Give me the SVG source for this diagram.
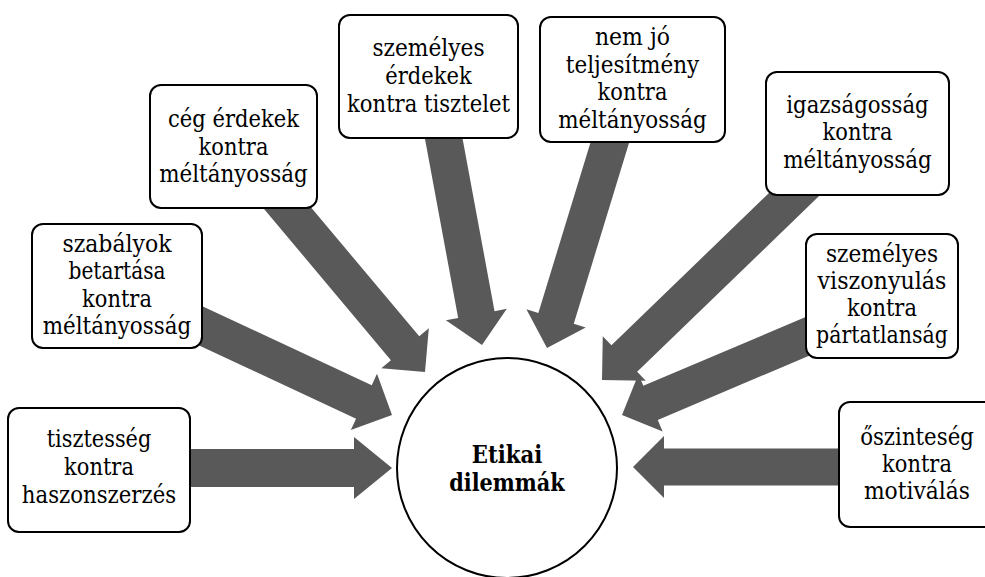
<svg xmlns="http://www.w3.org/2000/svg" xmlns:xlink="http://www.w3.org/1999/xlink" width="985" height="577" viewBox="0 0 985 577">
<style>
.box{fill:#fff;stroke:#000;stroke-width:2}
.t{font-family:"DejaVu Serif","Liberation Serif","Times New Roman",serif;font-size:24.5px;fill:#000;text-anchor:middle}
.b{font-weight:bold}
.arr{fill:#595959}
</style>
<defs>
<path id="arrow" d="M-290,-18.5 H-31 V-31 L0,0 L-31,31 V18.5 H-290 Z"/>
<path id="arrowL" d="M-290,-19 H-38 V-31 L0,0 L-38,31 V19 H-290 Z"/>
</defs>
<rect width="985" height="577" fill="#fff"/>
<g id="connectors" class="arr">
<use xlink:href="#arrowL" href="#arrowL" transform="translate(392,468)"/>
<use xlink:href="#arrow" href="#arrow" transform="translate(392,415) rotate(25)"/>
<use xlink:href="#arrow" href="#arrow" transform="translate(425,372) rotate(50)"/>
<use xlink:href="#arrow" href="#arrow" transform="translate(482,345) rotate(79.5)"/>
<use xlink:href="#arrow" href="#arrow" transform="translate(547,348) rotate(107)"/>
<use xlink:href="#arrow" href="#arrow" transform="translate(602,380) rotate(136)"/>
<use xlink:href="#arrow" href="#arrow" transform="translate(622,415) rotate(157)"/>
<use xlink:href="#arrow" href="#arrow" transform="translate(633,467) rotate(180)"/>
</g>
<g id="center">
<circle cx="507" cy="468" r="110" fill="#fff" stroke="#000" stroke-width="2"/>
<text class="t b" x="507" y="463" textLength="70.5" lengthAdjust="spacingAndGlyphs">Etikai</text>
<text class="t b" x="507" y="491" textLength="115.5" lengthAdjust="spacingAndGlyphs">dilemmák</text>
</g>
<g id="n1">
<rect class="box" x="8" y="408" width="182" height="124" rx="11"/>
<text class="t" x="99" y="447" textLength="104.6" lengthAdjust="spacingAndGlyphs">tisztesség</text>
<text class="t" x="99" y="475" textLength="69.8" lengthAdjust="spacingAndGlyphs">kontra</text>
<text class="t" x="99" y="503" textLength="154.4" lengthAdjust="spacingAndGlyphs">haszonszerzés</text>
</g>
<g id="n2">
<rect class="box" x="32" y="224" width="170" height="124" rx="11"/>
<text class="t" x="117" y="252" textLength="109.2" lengthAdjust="spacingAndGlyphs">szabályok</text>
<text class="t" x="117" y="279.3" textLength="97" lengthAdjust="spacingAndGlyphs">betartása</text>
<text class="t" x="117" y="306.6" textLength="69.8" lengthAdjust="spacingAndGlyphs">kontra</text>
<text class="t" x="117" y="334" textLength="148.6" lengthAdjust="spacingAndGlyphs">méltányosság</text>
</g>
<g id="n3">
<rect class="box" x="150" y="85" width="167" height="123" rx="11"/>
<text class="t" x="233.5" y="127" textLength="131.1" lengthAdjust="spacingAndGlyphs">cég érdekek</text>
<text class="t" x="233.5" y="154.5" textLength="69.8" lengthAdjust="spacingAndGlyphs">kontra</text>
<text class="t" x="233.5" y="182" textLength="148.6" lengthAdjust="spacingAndGlyphs">méltányosság</text>
</g>
<g id="n4">
<rect class="box" x="339" y="15" width="179" height="123" rx="11"/>
<text class="t" x="428.5" y="55.5" textLength="112.2" lengthAdjust="spacingAndGlyphs">személyes</text>
<text class="t" x="428.5" y="83.5" textLength="86.4" lengthAdjust="spacingAndGlyphs">érdekek</text>
<text class="t" x="428.5" y="111.5" textLength="163" lengthAdjust="spacingAndGlyphs">kontra tisztelet</text>
</g>
<g id="n5">
<rect class="box" x="540" y="17" width="185" height="125" rx="11"/>
<text class="t" x="632.5" y="45" textLength="75.1" lengthAdjust="spacingAndGlyphs">nem jó</text>
<text class="t" x="632.5" y="72.5" textLength="133.5" lengthAdjust="spacingAndGlyphs">teljesítmény</text>
<text class="t" x="632.5" y="100" textLength="69.8" lengthAdjust="spacingAndGlyphs">kontra</text>
<text class="t" x="632.5" y="127.5" textLength="148.6" lengthAdjust="spacingAndGlyphs">méltányosság</text>
</g>
<g id="n6">
<rect class="box" x="766" y="72" width="183" height="123" rx="11"/>
<text class="t" x="857.5" y="112.5" textLength="142.5" lengthAdjust="spacingAndGlyphs">igazságosság</text>
<text class="t" x="857.5" y="140" textLength="69.8" lengthAdjust="spacingAndGlyphs">kontra</text>
<text class="t" x="857.5" y="167.5" textLength="148.6" lengthAdjust="spacingAndGlyphs">méltányosság</text>
</g>
<g id="n7">
<rect class="box" x="806" y="234" width="152" height="124" rx="11"/>
<text class="t" x="882" y="261.5" textLength="112.2" lengthAdjust="spacingAndGlyphs">személyes</text>
<text class="t" x="882" y="288.5" textLength="128.9" lengthAdjust="spacingAndGlyphs">viszonyulás</text>
<text class="t" x="882" y="315.5" textLength="69.8" lengthAdjust="spacingAndGlyphs">kontra</text>
<text class="t" x="882" y="342.5" textLength="131.9" lengthAdjust="spacingAndGlyphs">pártatlanság</text>
</g>
<g id="n8">
<rect class="box" x="839" y="402" width="160" height="125" rx="11"/>
<text class="t" x="917" y="445" textLength="113.7" lengthAdjust="spacingAndGlyphs">őszinteség</text>
<text class="t" x="917" y="472" textLength="69.8" lengthAdjust="spacingAndGlyphs">kontra</text>
<text class="t" x="917" y="499" textLength="106.2" lengthAdjust="spacingAndGlyphs">motiválás</text>
</g>
</svg>
